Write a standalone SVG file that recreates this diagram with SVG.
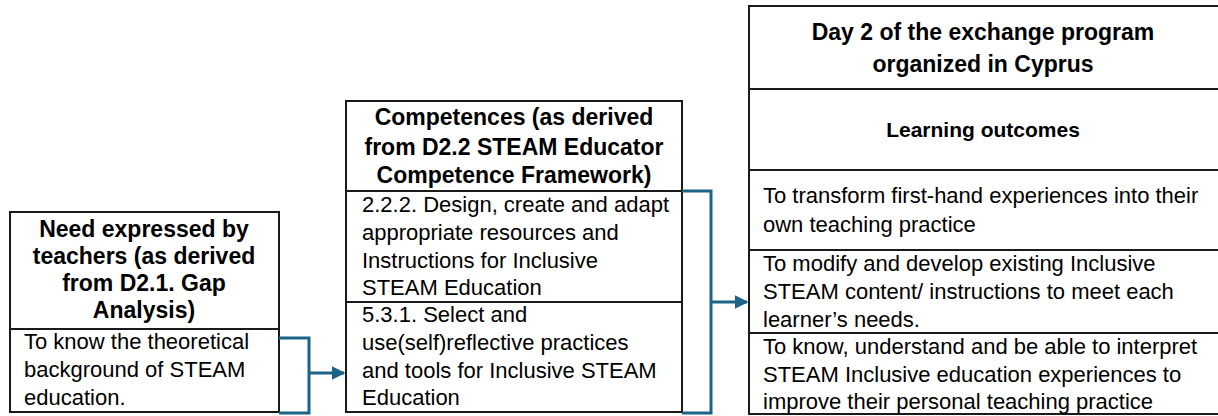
<svg xmlns="http://www.w3.org/2000/svg" width="1218" height="416" viewBox="0 0 1218 416">
<style>
.box{fill:#fff;stroke:#1a1a1a;stroke-width:2}
.div{stroke:#1a1a1a;stroke-width:2}
.h{font-family:"Liberation Sans",Arial,sans-serif;font-weight:bold;font-size:23px;fill:#000;text-anchor:middle}
.t{font-family:"Liberation Sans",Arial,sans-serif;font-size:22px;fill:#000}
.c{fill:none;stroke:#1b6488;stroke-width:3}
</style>
<defs>
<marker id="ah" viewBox="0 0 10 10" refX="9" refY="5" markerWidth="4.5" markerHeight="4.5" orient="auto" markerUnits="strokeWidth">
<path d="M0,0 L10,5 L0,10 z" fill="#1b6488"/>
</marker>
</defs>
<rect width="1218" height="416" fill="#fff"/>
<g id="need">
<rect class="box" x="10" y="212" width="269" height="200"/>
<line class="div" x1="10" y1="329" x2="279" y2="329"/>
<text class="h"><tspan x="144" y="237">Need expressed by</tspan><tspan x="144" y="264">teachers (as derived</tspan><tspan x="144" y="291">from D2.1. Gap</tspan><tspan x="144" y="318">Analysis)</tspan></text>
<text class="t"><tspan x="24" y="349">To know the theoretical</tspan><tspan x="24" y="377">background of STEAM</tspan><tspan x="24" y="405">education.</tspan></text>
</g>
<g id="competences">
<rect class="box" x="346" y="101" width="336" height="311"/>
<line class="div" x1="346" y1="191" x2="682" y2="191"/>
<line class="div" x1="346" y1="302" x2="682" y2="302"/>
<text class="h"><tspan x="514" y="125">Competences (as derived</tspan><tspan x="514" y="155">from D2.2 STEAM Educator</tspan><tspan x="514" y="183">Competence Framework)</tspan></text>
<text class="t"><tspan x="362" y="212">2.2.2. Design, create and adapt</tspan><tspan x="362" y="240">appropriate resources and</tspan><tspan x="362" y="268">Instructions for Inclusive</tspan><tspan x="362" y="295">STEAM Education</tspan></text>
<text class="t"><tspan x="362" y="322">5.3.1. Select and</tspan><tspan x="362" y="350">use(self)reflective practices</tspan><tspan x="362" y="378">and tools for Inclusive STEAM</tspan><tspan x="362" y="405">Education</tspan></text>
</g>
<g id="day2">
<rect class="box" x="749" y="6" width="480" height="408"/>
<line class="div" x1="749" y1="89" x2="1229" y2="89"/>
<line class="div" x1="749" y1="170" x2="1229" y2="170"/>
<line class="div" x1="749" y1="250" x2="1229" y2="250"/>
<line class="div" x1="749" y1="333" x2="1229" y2="333"/>
<text class="h"><tspan x="983" y="40">Day 2 of the exchange program</tspan><tspan x="983" y="72">organized in Cyprus</tspan></text>
<text class="h" x="983" y="137" style="font-size:21px">Learning outcomes</text>
<text class="t"><tspan x="763" y="203">To transform first-hand experiences into their</tspan><tspan x="763" y="232">own teaching practice</tspan></text>
<text class="t"><tspan x="763" y="271">To modify and develop existing Inclusive</tspan><tspan x="763" y="299">STEAM content/ instructions to meet each</tspan><tspan x="763" y="327">learner’s needs.</tspan></text>
<text class="t"><tspan x="763" y="354">To know, understand and be able to interpret</tspan><tspan x="763" y="382">STEAM Inclusive education experiences to</tspan><tspan x="763" y="409">improve their personal teaching practice</tspan></text>
</g>
<g id="connectors">
<path class="c" d="M279,338 H309 V413 H279"/>
<path class="c" d="M309,373 H344" marker-end="url(#ah)"/>
<path class="c" d="M682,191 H711 V413 H682"/>
<path class="c" d="M711,302 H747" marker-end="url(#ah)"/>
</g>
</svg>
